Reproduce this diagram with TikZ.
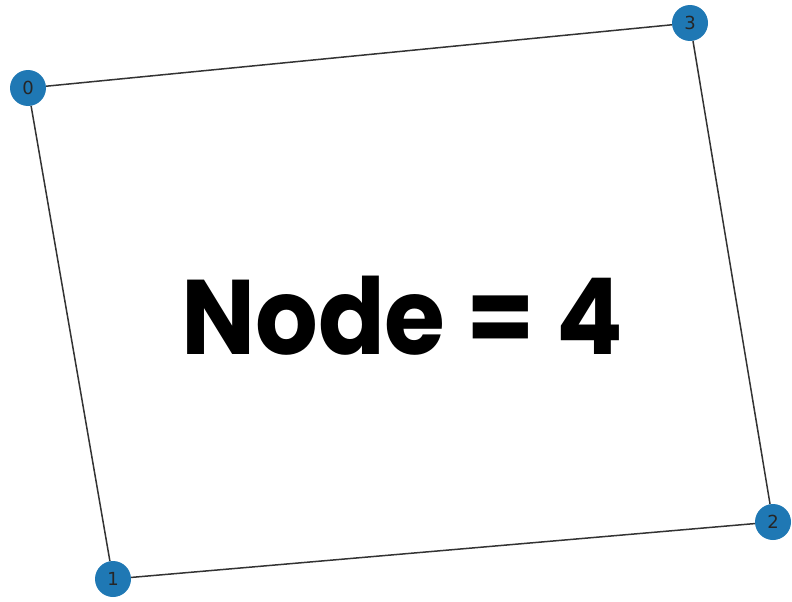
\documentclass[tikz,border=0pt]{standalone}
\usepackage{fontspec}
\setmainfont{DejaVu Sans}
\newfontfamily\titlefont{Poppins}[BoldFont={Poppins Bold}]
\definecolor{nxblue}{HTML}{1F78B4}
\begin{document}
\begin{tikzpicture}[x=1pt,y=-1pt]
\tikzset{
  vtx/.style={circle, fill=nxblue, minimum size=36pt, inner sep=0pt, font=\fontsize{18}{18}\selectfont, text=black!85},
  edge/.style={draw=black!80, line width=1.5pt},
  titletext/.style={font=\titlefont\bfseries\fontsize{106}{106}\selectfont, anchor=base, inner sep=0pt, xscale=0.93, transform shape}
}
\useasboundingbox (0,0) rectangle (792,602);
\node[vtx] (n0) at (28,88) {0};
\node[vtx] (n3) at (690,23) {3};
\node[vtx] (n2) at (773,522) {2};
\node[vtx] (n1) at (113,579) {1};
\draw[edge] (n0) -- (n3);
\draw[edge] (n3) -- (n2);
\draw[edge] (n2) -- (n1);
\draw[edge] (n1) -- (n0);
\node[titletext] (title) at (402,354) {Node = 4};
\end{tikzpicture}
\end{document}
